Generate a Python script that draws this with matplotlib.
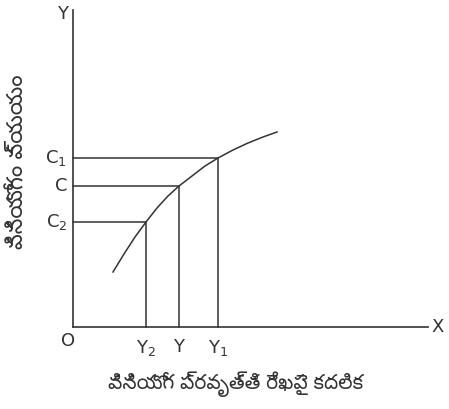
import matplotlib.pyplot as plt

# income levels (x) and consumption levels (y), in axis units
income = [73, 106, 145]          # Y2, Y, Y1
consumption = [105, 141, 169]    # C2, C, C1
income_labels = [r'$\mathregular{Y_2}$', 'Y', r'$\mathregular{Y_1}$']
cons_labels = [r'$\mathregular{C_2}$', 'C', r'$\mathregular{C_1}$']

# consumption function curve
curve_x = [40, 51, 62, 73, 84, 95, 106, 119, 132, 145, 160, 175, 190, 204]
curve_y = [55, 73, 90, 105, 119, 131, 141, 151, 161, 169, 177, 184, 190, 195]

col = '#333333'
fs = 13
fig = plt.figure(figsize=(4.49, 4.09), dpi=100)
ax = fig.add_axes([0, 0, 1, 1])
ax.set_xlim(-73, 376)
ax.set_ylim(-82, 327)
ax.axis('off')

# axes
ax.plot([0, 0], [0, 317], color=col, lw=1.2)
ax.plot([0, 355], [0, 0], color=col, lw=1.2)
ax.plot(curve_x, curve_y, color=col, lw=1.1)

# guide lines to each axis
for x, y, xl, yl in zip(income, consumption, income_labels, cons_labels):
    ax.plot([0, x, x], [y, y, 0], color=col, lw=1.1)
    ax.text(x, -11, xl, ha='center', va='top', fontsize=fs, color=col)
    ax.text(-6, y, yl, ha='right', va='center', fontsize=fs, color=col)

ax.text(-10, 313, 'Y', ha='center', va='center', fontsize=fs, color=col)
ax.text(365, 0, 'X', ha='center', va='center', fontsize=fs, color=col)
ax.text(-5, -14, 'O', ha='center', va='center', fontsize=fs, color=col)

tel = ['Noto Sans Telugu', 'Noto Sans', 'DejaVu Sans']
ax.text(163, -57, 'వినియోగ ప్రవృత్తి రేఖపై కదలిక', ha='center', va='center',
        fontsize=14.5, color=col, family=tel)
ax.text(-55, 165, 'వినియోగం వ్యయం', ha='center', va='center', rotation=90,
        fontsize=16, color=col, family=tel)

fig.savefig('out.png', dpi=100)
